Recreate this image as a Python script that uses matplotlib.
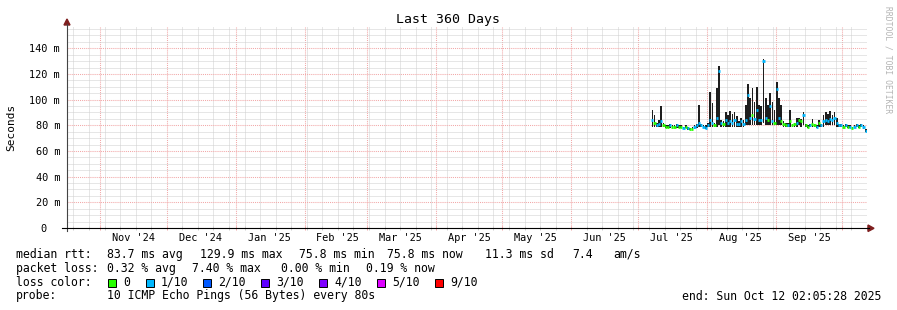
import numpy as np
import pandas as pd
import matplotlib
matplotlib.use('Agg')
import matplotlib.pyplot as plt
from matplotlib.lines import Line2D
from matplotlib.patches import Polygon, Rectangle
from datetime import datetime

W, H = 897, 310
MONO = 'DejaVu Sans Mono'

t_start = datetime(2024, 10, 17, 2, 5, 28)
t_end = datetime(2025, 10, 12, 2, 5, 28)
first_day = '2025-07-07'

# daily values in ms, Jul 7 .. Oct 11 2025
median_ms = [84, 82, 80, 81, 83, 80, 79, 79, 80, 79, 79, 80, 79, 79, 78, 79, 78, 77, 77, 79,
             80, 82, 80, 79, 78, 80, 84, 82, 80, 86, 122, 82, 81, 84, 82, 83, 82, 84, 81, 81,
             83, 81, 84, 104, 86, 88, 85, 92, 84, 84, 129.9, 86, 84, 95, 83, 82, 108, 86, 83, 81,
             80, 80, 83, 80, 81, 82, 84, 83, 88, 80, 79, 80, 81, 80, 79, 82, 80, 83, 84, 83,
             85, 84, 86, 82, 80, 80, 79, 80, 79, 79, 78, 79, 80, 79, 80, 79, 75.8]
smoke_lo = [79, 79, 79, 79, 79, 79, 78, 78, 78, 78, 78, 78, 78, 78, 77, 78, 76, 76, 76, 77,
            78, 79, 79, 78, 77, 79, 79, 79, 79, 79, 80, 79, 79, 79, 79, 79, 79, 79, 79, 79,
            79, 79, 80, 80, 80, 80, 80, 80, 80, 80, 82, 80, 80, 80, 80, 80, 80, 80, 80, 79,
            79, 79, 79, 79, 79, 79, 80, 79, 80, 79, 78, 79, 79, 79, 78, 79, 79, 79, 80, 80,
            80, 80, 80, 79, 79, 79, 78, 79, 78, 78, 77, 78, 79, 78, 79, 77, 75]
smoke_hi = [92, 88, 82, 84, 95, 82, 80, 80, 81, 80, 80, 81, 80, 80, 79, 80, 79, 78, 79, 80,
            81, 96, 81, 80, 80, 82, 106, 97, 82, 109, 126, 84, 83, 90, 88, 91, 89, 90, 87, 83,
            86, 84, 96, 112, 101, 109, 98, 110, 96, 95, 132, 101, 96, 105, 98, 92, 114, 101, 96, 83,
            82, 82, 92, 81, 82, 86, 86, 85, 90, 81, 80, 81, 85, 81, 80, 84, 81, 88, 90, 89,
            91, 88, 90, 86, 81, 81, 80, 81, 80, 80, 79, 80, 81, 80, 81, 80, 77]
loss = [1, 0, 1, 1, 1, 0, 0, 0, 1, 0, 0, 1, 0, 0, 1, 0, 1, 0, 0, 1,
        1, 1, 1, 1, 1, 1, 1, 1, 0, 1, 1, 1, 0, 1, 1, 1, 1, 1, 1, 1,
        1, 1, 1, 1, 1, 0, 1, 1, 1, 1, 1, 1, 0, 1, 1, 0, 1, 1, 0, 0,
        0, 1, 0, 0, 0, 1, 0, 0, 1, 0, 0, 1, 0, 0, 1, 0, 1, 1, 1, 1,
        1, 1, 1, 1, 1, 1, 0, 1, 0, 1, 0, 1, 1, 0, 1, 1, 1]

loss_colors = {0: '#26ff00', 1: '#00b8ff', 2: '#0059ff', 3: '#5e00ff',
               4: '#7e00ff', 5: '#dd00ff', 9: '#ff0000'}
loss_names = ['0', '1/10', '2/10', '3/10', '4/10', '5/10', '9/10']
loss_keys = [0, 1, 2, 3, 4, 5, 9]

ytick_vals = [0, 20, 40, 60, 80, 100, 120, 140]
ytick_labels = ['0', '20 m', '40 m', '60 m', '80 m', '100 m', '120 m', '140 m']

rtt_items = [('median rtt:', 16), ('83.7 ms avg', 107), ('129.9 ms max', 200),
             ('75.8 ms min', 299), ('75.8 ms now', 387), ('11.3 ms sd', 485),
             ('7.4', 572), ('am/s', 613)]
loss_items = [('packet loss:', 16), ('0.32 % avg', 107), ('7.40 % max', 192),
              ('0.00 % min', 281), ('0.19 % now', 366)]
box_x = [108, 146, 203, 261, 319, 377, 435]
probe_items = [('probe:', 16), ('10 ICMP Echo Pings (56 Bytes) every 80s', 107)]
end_text = 'end: Sun Oct 12 02:05:28 2025'


def fx(px):
    return px / W


def fy(py):
    return 1 - py / H


fig = plt.figure(figsize=(W / 100, H / 100), dpi=100)
fig.patch.set_facecolor('white')
ax = fig.add_axes([fx(67), fy(228), 800 / W, (228 - 27) / H])
ax.set_facecolor('white')

days = pd.date_range(first_day, periods=len(median_ms), freq='D') + pd.Timedelta(hours=12)
med = np.array(median_ms)
lo = np.array(smoke_lo)
hi = np.array(smoke_hi)

# smoke
ax.bar(days, hi - lo, bottom=lo, width=0.75, color='#1e1e1e', linewidth=0, zorder=3)

# median dashes coloured by loss
cols = [loss_colors[l] for l in loss]
ax.hlines(med, days - pd.Timedelta(hours=12), days + pd.Timedelta(hours=12),
          colors=cols, linewidth=2.0, zorder=4)

ax.set_xlim(t_start, t_end)
ax.set_ylim(0, 156.6)

# grid
month_starts = pd.date_range('2024-11-01', '2025-10-01', freq='MS')
sundays = pd.date_range('2024-10-20', '2025-10-12', freq='7D')
ax.set_xticks(month_starts)
ax.set_xticks(sundays, minor=True)
ax.set_xticklabels([])
ax.set_yticks(ytick_vals)
ax.set_yticklabels(ytick_labels, fontfamily=MONO, fontsize=7.4)
ax.set_yticks(np.arange(0, 157, 5), minor=True)

mgrid = '#f2a8a8'
grid = '#cfcfcf'
ax.grid(which='major', color=mgrid, linewidth=0.75, linestyle=(0, (1, 1)), zorder=1, snap=True)
ax.grid(which='minor', color=grid, linewidth=0.72, linestyle=(0, (1, 1)), zorder=0, snap=True)
ax.set_axisbelow(True)

ax.tick_params(axis='y', which='both', length=0, pad=5)
ax.yaxis.get_major_ticks()[0].set_pad(14.6)
ax.tick_params(axis='x', which='major', length=3, width=0.72, color=mgrid, direction='inout')
ax.tick_params(axis='x', which='minor', length=3, width=0.72, color=grid, direction='inout')
for s in ax.spines.values():
    s.set_visible(False)

# month labels centred mid-month
label_y = -(237.7 - 228) / (228 - 27)
for m in pd.date_range('2024-11-01', '2025-09-01', freq='MS') + pd.Timedelta(days=15):
    ax.text(m, label_y, m.strftime("%b '%y"), transform=ax.get_xaxis_transform(),
            ha='center', va='center', fontfamily=MONO, fontsize=7.4)

# axes with arrows
fig.add_artist(Line2D([fx(67), fx(67)], [fy(231), fy(24)], color='#444444', linewidth=0.8, snap=True))
fig.add_artist(Line2D([fx(62), fx(869)], [fy(228.3), fy(228.3)], color='black', linewidth=0.8, snap=True))
fig.add_artist(Polygon([[fx(64), fy(25)], [fx(70), fy(25)], [fx(67), fy(19)]],
                       closed=True, color='#7f1f1f', transform=fig.transFigure))
fig.add_artist(Polygon([[fx(868), fy(225)], [fx(868), fy(231.5)], [fx(874), fy(228.3)]],
                       closed=True, color='#7f1f1f', transform=fig.transFigure))

# titles
fig.text(fx(448), fy(19.5), 'Last 360 Days', ha='center', va='center', fontfamily=MONO, fontsize=9.5)
fig.text(fx(11), fy(127), 'Seconds', rotation=90, ha='center', va='center', fontfamily=MONO, fontsize=8)
fig.text(fx(888), fy(60), 'RRDTOOL / TOBI OETIKER', rotation=270, ha='center', va='center',
         fontfamily=MONO, fontsize=5.8, color='#b4b4b4')

# legend
fs = 8.3


def legend_row(items, py):
    for txt, x in items:
        fig.text(fx(x), fy(py), txt, ha='left', va='center', fontfamily=MONO, fontsize=fs)


legend_row(rtt_items, 254.3)
legend_row(loss_items, 268.3)
legend_row([('loss color:', 16)], 282.3)
for k, name, x in zip(loss_keys, loss_names, box_x):
    fig.add_artist(Rectangle((fx(x), fy(286.5)), 7.5 / W, 8 / H, facecolor=loss_colors[k],
                             edgecolor='black', linewidth=0.7, transform=fig.transFigure))
    fig.text(fx(x + 15), fy(282.3), name, ha='left', va='center', fontfamily=MONO, fontsize=fs)
legend_row(probe_items, 296)
fig.text(fx(881), fy(296), end_text, ha='right', va='center', fontfamily=MONO, fontsize=fs)

fig.savefig('out.png', dpi=100, facecolor='white')
